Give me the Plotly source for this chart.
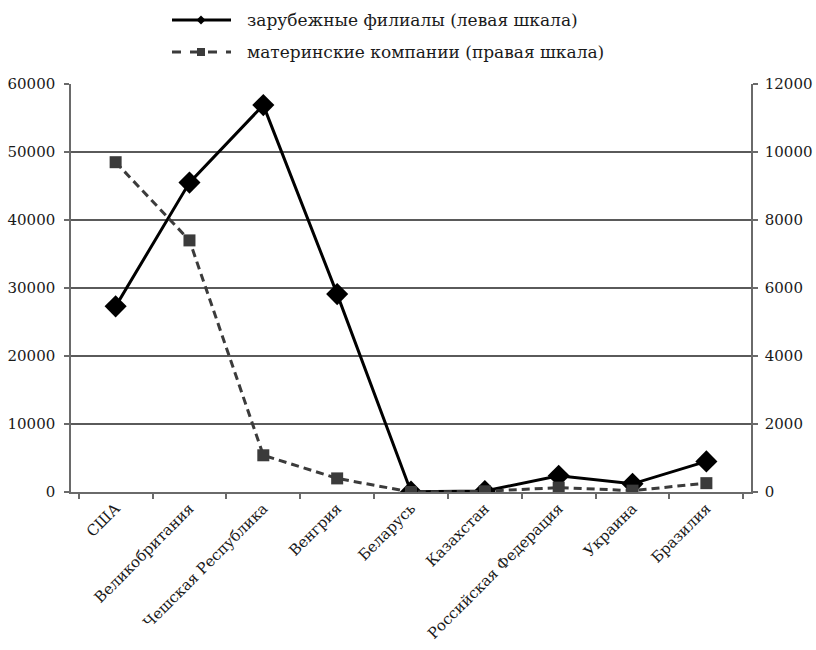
import plotly.graph_objects as go

# Страны (категории оси X)
countries = ["США", "Великобритания", "Чешская Республика", "Венгрия", "Беларусь",
             "Казахстан", "Российская Федерация", "Украина", "Бразилия"]

# Зарубежные филиалы (левая шкала)
affiliates = [27300, 45500, 56900, 29100, 50, 150, 2400, 1200, 4500]

# Материнские компании (правая шкала)
parents = [9700, 7400, 1080, 400, 0, 20, 130, 40, 260]

left_ticks = [0, 10000, 20000, 30000, 40000, 50000, 60000]
right_ticks = [0, 2000, 4000, 6000, 8000, 10000, 12000]

legend_names = ["зарубежные филиалы (левая шкала)", "материнские компании (правая шкала)"]

FONT = "DejaVu Serif"
INK = "#1a1a1a"
GREY = "#3b3b3b"
AXIS = "#6a6a6a"

fig = go.Figure()

fig.add_trace(go.Scatter(
    x=countries, y=affiliates, name=legend_names[0], yaxis="y",
    mode="lines+markers",
    line=dict(color="#000000", width=3),
    marker=dict(symbol="diamond", size=17, color="#000000"),
    showlegend=False,
))

fig.add_trace(go.Scatter(
    x=countries, y=parents, name=legend_names[1], yaxis="y2",
    mode="lines+markers",
    line=dict(color=GREY, width=3, dash="8px,5px"),
    marker=dict(symbol="square", size=12, color=GREY),
    showlegend=False,
))

# Plot area in pixels, used to place the hand-drawn legend
W, H = 816, 650
ML, MR, MT, MB = 71, 65, 84, 158
PW, PH = W - ML - MR, H - MT - MB


def px(x):
    return (x - ML) / PW


def py(y):
    return (H - MB - y) / PH


shapes = []
annotations = []
rows = [
    (20, dict(color="#000000", width=3), "diamond"),
    (52, dict(color=GREY, width=3, dash="dash"), "square"),
]
for (ry, line, sym), label in zip(rows, legend_names):
    shapes.append(dict(type="line", xref="paper", yref="paper",
                       x0=px(172), x1=px(231), y0=py(ry), y1=py(ry), line=line))
    cx = 201
    if sym == "diamond":
        path = (f"M {px(cx - 4.5)},{py(ry)} L {px(cx)},{py(ry - 4.5)} "
                f"L {px(cx + 4.5)},{py(ry)} L {px(cx)},{py(ry + 4.5)} Z")
        shapes.append(dict(type="path", xref="paper", yref="paper", path=path,
                           fillcolor="#000000", line=dict(width=0)))
    else:
        shapes.append(dict(type="rect", xref="paper", yref="paper",
                           x0=px(cx - 4), x1=px(cx + 4), y0=py(ry - 4), y1=py(ry + 4),
                           fillcolor=GREY, line=dict(width=0)))
    annotations.append(dict(xref="paper", yref="paper", x=px(245), y=py(ry),
                            xanchor="left", yanchor="middle", showarrow=False,
                            text=label, font=dict(family=FONT, size=17, color=INK)))

fig.update_layout(
    width=W, height=H,
    margin=dict(l=ML, r=MR, t=MT, b=MB, autoexpand=False),
    paper_bgcolor="white", plot_bgcolor="white",
    showlegend=False,
    font=dict(family=FONT, color=INK),
    shapes=shapes,
    annotations=annotations,
    xaxis=dict(
        type="category", tickangle=-45, automargin=False,
        ticks="outside", tickson="boundaries", ticklen=5, tickwidth=1.5, tickcolor=AXIS,
        showline=True, linecolor=AXIS, linewidth=1.5,
        showgrid=False, tickfont=dict(family=FONT, size=15, color=INK),
    ),
    yaxis=dict(
        range=[0, 60000], tickvals=left_ticks, ticktext=[str(v) for v in left_ticks],
        automargin=False,
        ticks="outside", ticklen=5, tickwidth=1.5, tickcolor=AXIS,
        showline=True, linecolor=AXIS, linewidth=1.5,
        showgrid=True, gridcolor="#5a5a5a", gridwidth=1.5, zeroline=False,
        tickfont=dict(family=FONT, size=15, color=INK), ticklabelstandoff=6,
    ),
    yaxis2=dict(
        range=[0, 12000], tickvals=right_ticks, ticktext=[str(v) for v in right_ticks],
        overlaying="y", side="right", automargin=False,
        ticks="outside", ticklen=5, tickwidth=1.5, tickcolor=AXIS,
        showline=True, linecolor=AXIS, linewidth=1.5,
        showgrid=False, zeroline=False,
        tickfont=dict(family=FONT, size=15, color=INK), ticklabelstandoff=4,
    ),
)

fig.write_html("out.html")
